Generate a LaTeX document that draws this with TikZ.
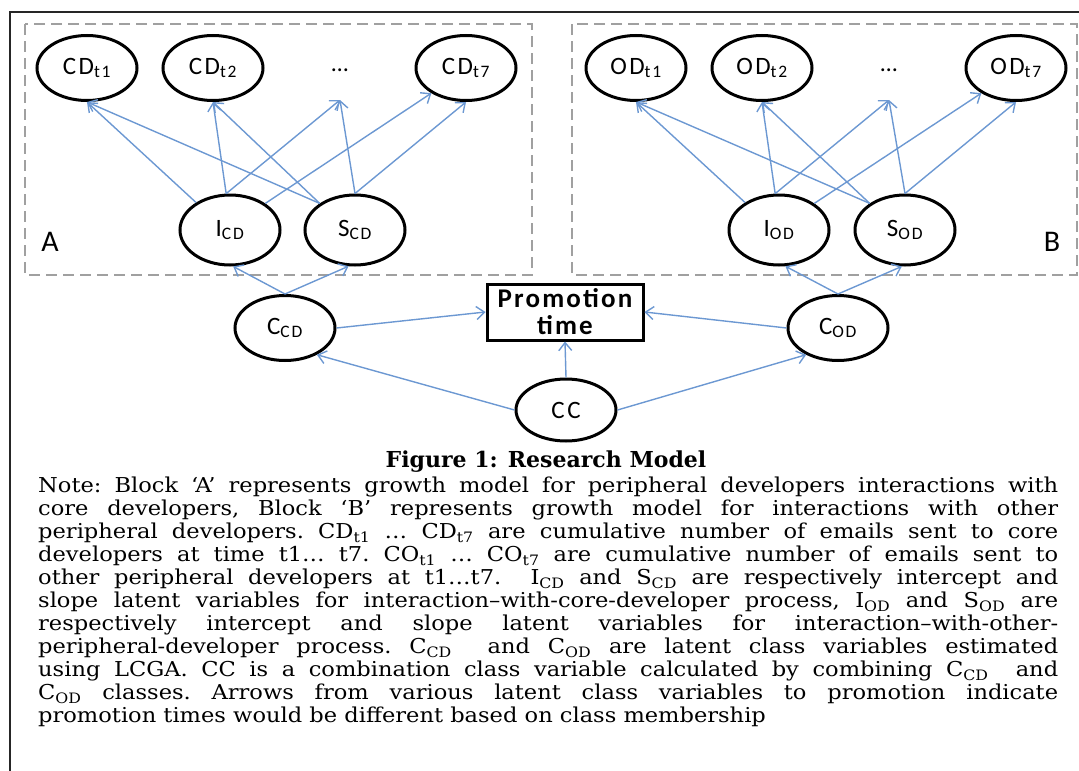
\documentclass[tikz,border=0pt]{standalone}
\usepackage{fontspec}
\setmainfont{DejaVu Serif}
\newfontfamily\notefont[FakeStretch=1.1]{DejaVu Serif}
\newfontfamily\nodefont[LetterSpace=10]{Carlito}
\newfontfamily\labfont{Carlito}
\usetikzlibrary{arrows.meta,shapes.geometric}
\definecolor{arr}{RGB}{108,152,210}
\definecolor{grpc}{RGB}{160,160,160}
\begin{document}
\begin{tikzpicture}[x=1pt,y=-1pt,
 lat/.style={ellipse, draw=black, line width=3pt, fill=white, minimum width=100pt, minimum height=65pt, inner sep=0pt, font=\nodefont\fontsize{25}{27}\selectfont},
 lnk/.style={draw=arr, line width=1.4pt, -{Straight Barb[length=8pt,width=13pt]}},
 grp/.style={draw=grpc, line width=2pt, dash pattern=on 11pt off 6pt},
 pbox/.style={draw=black, line width=3pt, fill=white, minimum width=156pt, minimum height=56pt, inner sep=0pt, align=center, font=\labfont\bfseries\addfontfeature{LetterSpace=8}\fontsize{27}{27}\selectfont},
 blab/.style={font=\labfont\fontsize{30}{30}\selectfont, inner sep=0pt},
]
\path[use as bounding box] (0,0) rectangle (1079,771);
\draw[line width=2pt, black!85] (10,771) -- (10,12) -- (1079,12);
\draw[grp] (25,24) rectangle (532,275);
\draw[grp] (572,24) rectangle (1077,275);

% block A
\node[lat] (cd1) at (87,68) {CD\textsubscript{t1}};
\node[lat] (cd2) at (213,68) {CD\textsubscript{t2}};
\node[font=\labfont\fontsize{24}{26}\selectfont] (cdd) at (340,70) {\dots};
\coordinate (cddp) at (340,100);
\node[lat] (cd7) at (466,68) {CD\textsubscript{t7}};
\node[lat, minimum height=70pt] (icd) at (230,230) {I\textsubscript{CD}};
\node[lat, minimum height=70pt] (scd) at (355,230) {S\textsubscript{CD}};
\node[blab] (la) at (50,242) {A};

\draw[lnk] (icd.141) -- (cd1.south);
\draw[lnk] (icd.96) -- (cd2.south);
\draw[lnk] (icd.96) -- (cddp);
\draw[lnk] (icd.37) -- (cd7.216);
\draw[lnk] (scd.143) -- (cd1.south);
\draw[lnk] (scd.143) -- (cd2.south);
\draw[lnk] (scd.90) -- (cddp);
\draw[lnk] (scd.90) -- (cd7.south);

% block B
\node[lat] (od1) at (636,68) {OD\textsubscript{t1}};
\node[lat] (od2) at (762,68) {OD\textsubscript{t2}};
\node[font=\labfont\fontsize{24}{26}\selectfont] (odd) at (889,70) {\dots};
\coordinate (oddp) at (889,100);
\node[lat] (od7) at (1016,68) {OD\textsubscript{t7}};
\node[lat, minimum height=70pt] (iod) at (779,230) {I\textsubscript{OD}};
\node[lat, minimum height=70pt] (sod) at (905,230) {S\textsubscript{OD}};
\node[blab] (lb) at (1052,242) {B};

\draw[lnk] (iod.141) -- (od1.south);
\draw[lnk] (iod.96) -- (od2.south);
\draw[lnk] (iod.96) -- (oddp);
\draw[lnk] (iod.37) -- (od7.216);
\draw[lnk] (sod.143) -- (od1.south);
\draw[lnk] (sod.143) -- (od2.south);
\draw[lnk] (sod.90) -- (oddp);
\draw[lnk] (sod.90) -- (od7.south);

% middle
\node[pbox] (pt) at (565,312) {Promotion\\time};
\node[lat] (ccd) at (285,328) {C\textsubscript{CD}};
\node[lat] (cod) at (838,328) {C\textsubscript{OD}};
\node[lat, minimum height=62pt] (cc) at (566,410) {CC};

\draw[lnk] (ccd.north) -- (icd.-85);
\draw[lnk] (ccd.north) -- (scd.-100);
\draw[lnk] (cod.north) -- (iod.-80);
\draw[lnk] (cod.north) -- (sod.-95);
\draw[lnk] (ccd.east) -- (pt.west);
\draw[lnk] (cod.west) -- (pt.east);
\draw[lnk] (cc.north) -- (pt.south);
\draw[lnk] (cc.west) -- (ccd.-40);
\draw[lnk] (cc.east) -- (cod.-140);

% caption and note
\node[font=\bfseries\fontsize{22}{23}\selectfont, inner sep=0pt] (cap) at (546,462) {Figure 1: Research Model};
\node[anchor=north west, text width=1020pt, inner sep=0pt, align=justify,
      font=\notefont\fontsize{20.5}{23}\selectfont] (note) at (38,477) {\hyphenpenalty=10000 \tolerance=10000 \frenchspacing
Note: Block ‘A’ represents growth model for peripheral developers interactions with\linebreak
core developers, Block ‘B’ represents growth model for interactions with other\linebreak
peripheral developers. CD\textsubscript{t1} … CD\textsubscript{t7} are cumulative number of emails sent to core\linebreak
developers at time t1… t7. CO\textsubscript{t1} … CO\textsubscript{t7} are cumulative number of emails sent to\linebreak
other peripheral developers at t1…t7. \ I\textsubscript{CD} and S\textsubscript{CD} are respectively intercept and\linebreak
slope latent variables for interaction–with-core-developer process, I\textsubscript{OD} and S\textsubscript{OD} are\linebreak
respectively intercept and slope latent variables for interaction–with-other-\linebreak
peripheral-developer process. C\textsubscript{CD} \ and C\textsubscript{OD} are latent class variables estimated\linebreak
using LCGA. CC is a combination class variable calculated by combining C\textsubscript{CD} \ and\linebreak
C\textsubscript{OD} classes. Arrows from various latent class variables to promotion indicate\linebreak
promotion times would be different based on class membership\par};
\end{tikzpicture}
\end{document}
